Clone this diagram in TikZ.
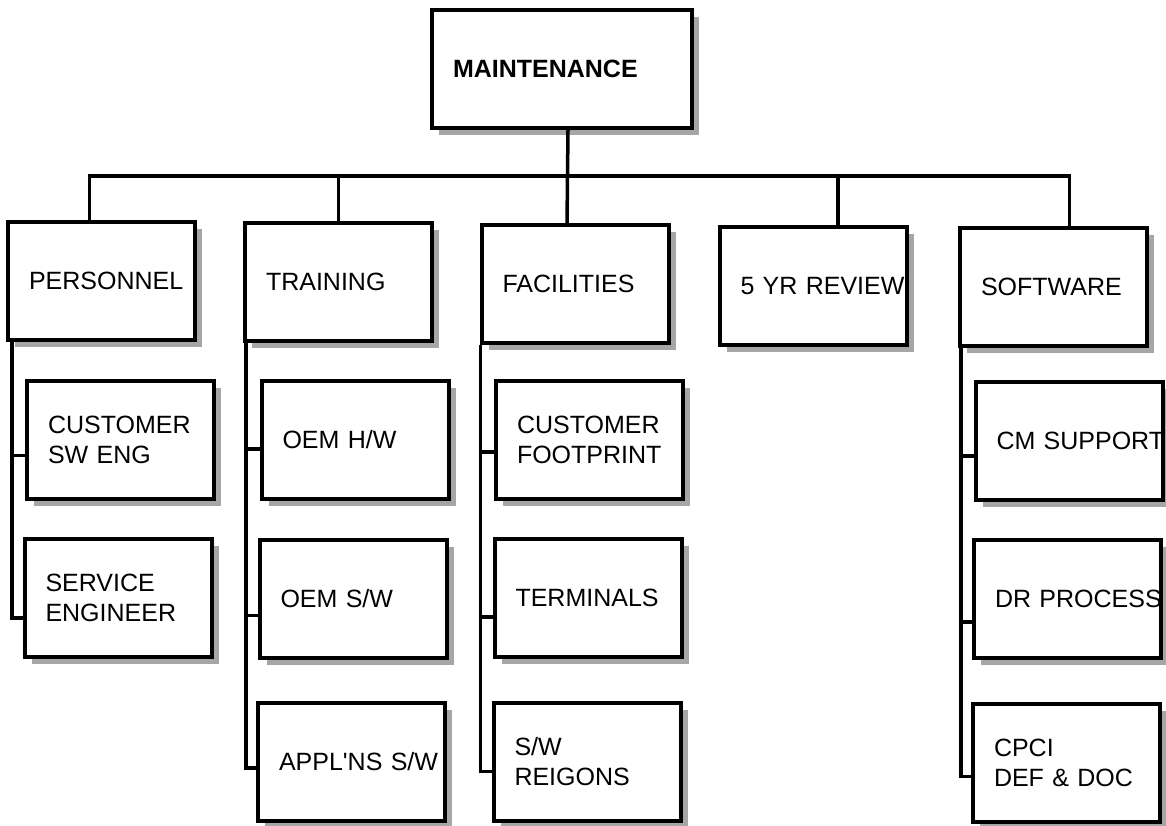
\documentclass[tikz,border=0pt]{standalone}
\usepackage{fontspec}
\setmainfont{Liberation Sans}
\usetikzlibrary{shadows}

\begin{document}
\begin{tikzpicture}[
    x=1pt, y=-1pt,
    every node/.style={font=\fontsize{25}{30}\selectfont},
    unit/.style={rectangle, draw, line width=4pt, fill=white, text width=145pt, align=left, inner xsep=21pt, minimum width=187pt, minimum height=118pt,
        drop shadow={shadow xshift=7pt, shadow yshift=-7pt, fill=black!35, opacity=1}},
    head/.style={unit, text width=218pt, minimum width=260pt, font=\fontsize{25}{30}\selectfont\bfseries},
    link/.style={line width=3.5pt}
]
    \useasboundingbox (0,0) rectangle (1166,826);

% -------------------------
% Top Node
% -------------------------
    \node[head] (maint) at (562, 69) {MAINTENANCE};
    \coordinate (bus) at (568, 176);

% -------------------------
% Second Row
% -------------------------
    \node[unit] (pers)  at (101.5, 281) {PERSONNEL};
    \node[unit] (train) at (338.5, 282) {TRAINING};
    \node[unit] (fac)   at (575, 284)   {FACILITIES};
    \node[unit] (yr)    at (813, 286)   {\mbox{5 YR REVIEW}};
    \node[unit] (soft)  at (1053.5, 287) {SOFTWARE};

% -------------------------
% Sub Units
% -------------------------
    % personnel
    \node[unit] (pc1) at (120.5, 439.5) {CUSTOMER\\SW ENG};
    \node[unit] (pc2) at (118, 598)     {SERVICE\\ENGINEER};

    % training
    \node[unit] (tc1) at (355, 440)   {OEM H/W};
    \node[unit] (tc2) at (353, 598.5) {OEM S/W};
    \node[unit] (tc3) at (351.5, 762) {\mbox{APPL\textquotesingle NS S/W}};

    % facilities
    \node[unit] (fc1) at (589.5, 440) {CUSTOMER\\FOOTPRINT};
    \node[unit] (fc2) at (588, 598)   {TERMINALS};
    \node[unit] (fc3) at (587, 761.5) {S/W\\REIGONS};

    % software
    \node[unit] (sc1) at (1069, 441)     {\mbox{CM SUPPORT}};
    \node[unit] (sc2) at (1067.5, 599)   {\mbox{DR PROCESS}};
    \node[unit] (sc3) at (1066.5, 762.5) {CPCI\\DEF \& DOC};

% -------------------------
% Connectors
% -------------------------
    \draw[link] ([xshift=6pt]maint.south) -- ([xshift=-8pt]fac.north);
    \draw[link] ([xshift=-12pt]pers.north) |- (bus) -| ([xshift=16pt]soft.north);
    \draw[link] (train.north) |- (bus);
    \draw[link] ([xshift=25pt]yr.north) |- (bus);

    \draw[link] ([xshift=6pt]pers.south west) |- ([yshift=-20pt]pc2.west);
    \draw[link] ([xshift=6pt]pers.south west) |- ([yshift=-16pt]pc1.west);

    \draw[link] ([xshift=3pt]train.south west) |- ([yshift=-6pt]tc3.west);
    \draw[link] ([xshift=3pt]train.south west) |- ([yshift=-17pt]tc2.west);
    \draw[link] ([xshift=3pt]train.south west) |- ([yshift=-9pt]tc1.west);

    \draw[link] ([xshift=1pt]fac.south west) |- ([yshift=-10pt]fc3.west);
    \draw[link] ([xshift=1pt]fac.south west) |- ([yshift=-19pt]fc2.west);
    \draw[link] ([xshift=1pt]fac.south west) |- ([yshift=-12pt]fc1.west);

    \draw[link] ([xshift=3pt]soft.south west) |- ([yshift=-14pt]sc3.west);
    \draw[link] ([xshift=3pt]soft.south west) |- ([yshift=-23pt]sc2.west);
    \draw[link] ([xshift=3pt]soft.south west) |- ([yshift=-15pt]sc1.west);
\end{tikzpicture}
\end{document}
